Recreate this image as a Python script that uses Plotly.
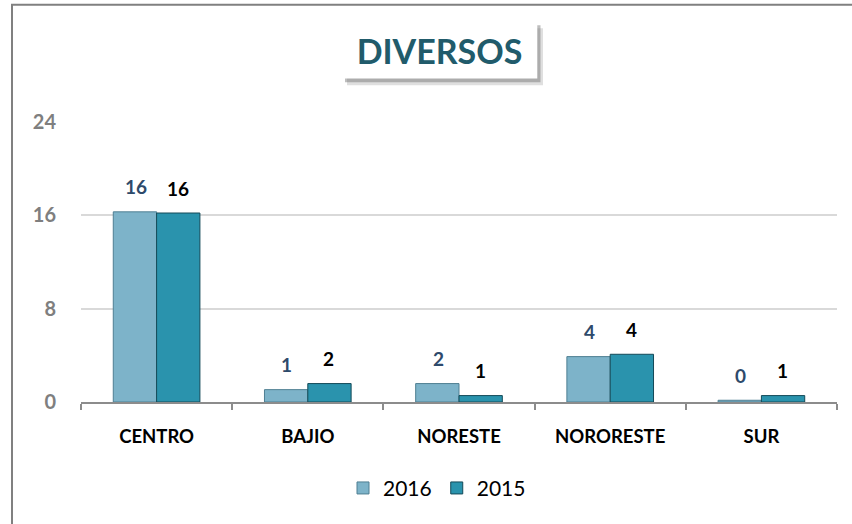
import plotly.graph_objects as go

categories = ["CENTRO", "BAJIO", "NORESTE", "NORORESTE", "SUR"]
values_2016 = [16.3, 1.06, 1.58, 3.89, 0.15]
values_2015 = [16.2, 1.58, 0.55, 4.09, 0.55]
y_ticks = [0, 8, 16, 24]
title_text = "DIVERSOS"

FONT = "Lato"
c2016 = "#7DB3C9"
c2015 = "#2A93AD"

fig = go.Figure()
fig.add_trace(go.Bar(
    name="2016", x=categories, y=values_2016,
    marker=dict(color=c2016, line=dict(color="#4F7F92", width=1)),
))
fig.add_trace(go.Bar(
    name="2015", x=categories, y=values_2015,
    marker=dict(color=c2015, line=dict(color="#144A58", width=1)),
))

annotations = []
for cat, v in zip(categories, values_2016):
    annotations.append(dict(x=cat, y=v, xref="x", yref="y", text=f"{v:.0f}",
                            showarrow=False, xshift=-21, yshift=25, yanchor="middle",
                            font=dict(family=FONT, size=19, color="#2E4A6B", weight="bold")))
for cat, v in zip(categories, values_2015):
    annotations.append(dict(x=cat, y=v, xref="x", yref="y", text=f"{v:.0f}",
                            showarrow=False, xshift=21, yshift=25, yanchor="middle",
                            font=dict(family=FONT, size=19, color="#000000", weight="bold")))

def px(xp):
    return (xp - 81) / 756.0

def py(yp):
    return (401.7 - yp) / 280.0

shapes = [
    # outer frame
    dict(type="rect", xref="paper", yref="paper",
         x0=px(12), x1=px(900), y0=py(560), y1=py(4.5),
         line=dict(color="#808080", width=2), fillcolor="rgba(0,0,0,0)", layer="below"),
    # title box shadow
    dict(type="rect", xref="paper", yref="paper",
         x0=px(347), x1=px(543), y0=py(85), y1=py(28),
         line=dict(width=0), fillcolor="rgba(150,150,150,0.3)", layer="above"),
    dict(type="rect", xref="paper", yref="paper",
         x0=px(345), x1=px(540.5), y0=py(82), y1=py(25),
         line=dict(width=0), fillcolor="rgba(110,110,110,0.45)", layer="above"),
    # title box
    dict(type="rect", xref="paper", yref="paper",
         x0=px(342.7), x1=px(537.3), y0=py(78.3), y1=py(22.7),
         line=dict(width=0), fillcolor="#FFFFFF", layer="above"),
]

fig.update_layout(
    width=852, height=524,
    margin=dict(l=81, r=15, t=122, b=122),
    paper_bgcolor="#FFFFFF", plot_bgcolor="rgba(0,0,0,0)",
    barmode="group", bargap=0.427, bargroupgap=0,
    title=dict(text=title_text, x=px(439.5), xref="paper", xanchor="center",
               y=1 - 52 / 524, yref="container", yanchor="middle",
               font=dict(family=FONT, size=34, color="#215B6B", weight="bold")),
    font=dict(family=FONT),
    showlegend=True,
    legend=dict(orientation="h", x=px(437), xanchor="center", y=py(488), yanchor="middle",
                font=dict(family=FONT, size=21, color="#000000"),
                itemwidth=30, tracegroupgap=0),
    annotations=annotations,
    shapes=shapes,
)
fig.update_xaxes(
    showline=True, linecolor="#8C8C8C", linewidth=2,
    ticks="outside", tickson="boundaries", ticklen=6, tickcolor="#8C8C8C", tickwidth=1.5,
    tickfont=dict(family=FONT, size=18.5, color="#000000", weight="bold"),
    ticklabelstandoff=17, showgrid=False,
)
fig.update_yaxes(
    range=[0, 24], tickvals=y_ticks, showline=False, zeroline=False,
    gridcolor="#D9D9D9", gridwidth=1.5,
    tickfont=dict(family=FONT, size=20, color="#7F7F7F", weight="bold"),
    ticklabelstandoff=24,
)

fig.write_html("out.html", config={"displayModeBar": False},
               post_script="document.body.style.margin='0';document.body.style.overflow='hidden';")
